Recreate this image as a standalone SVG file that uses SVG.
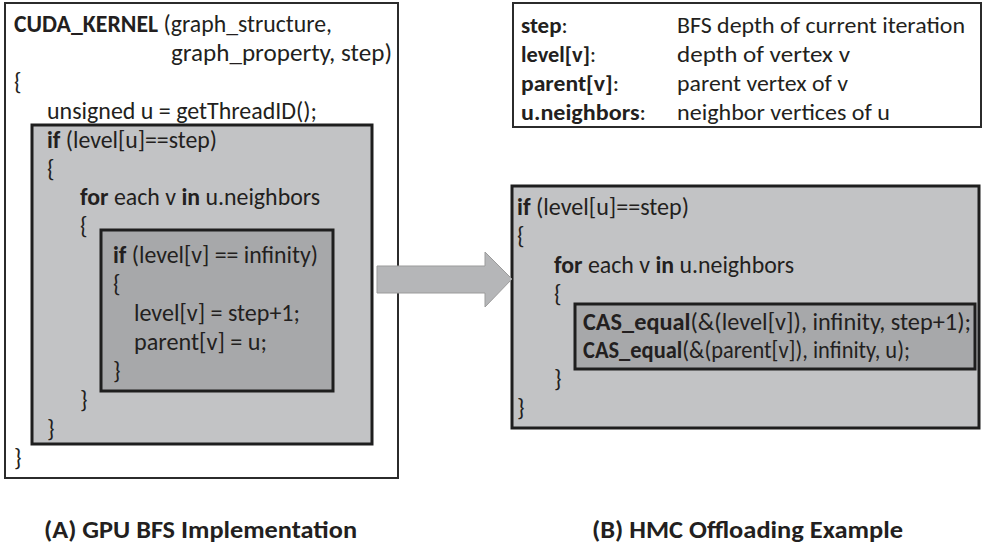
<svg xmlns="http://www.w3.org/2000/svg" width="983" height="546" viewBox="0 0 983 546">
<style>
text{font-family:Carlito,Lato,"Open Sans",sans-serif;font-size:24px;fill:#231f20}
.b{font-weight:bold}
.lg{font-size:23px}
.outer{fill:#ffffff;stroke:#2b2b2b;stroke-width:2}
.lvl1{fill:#c2c3c5;stroke:#1e1e1e;stroke-width:3}
.lvl2{fill:#a7a8aa;stroke:#1e1e1e;stroke-width:3}
.cap{font-weight:bold;font-size:24px}
</style>
<rect width="983" height="546" fill="#ffffff"/>
<g id="gpu-bfs">
<rect class="outer" x="5" y="3" width="393" height="475"/>
<rect class="lvl1" x="32" y="125" width="340" height="319"/>
<rect class="lvl2" x="101" y="230" width="232" height="161"/>
<text x="14" y="32" textLength="318" lengthAdjust="spacingAndGlyphs"><tspan class="b">CUDA_KERNEL</tspan> (graph_structure,</text>
<text x="171" y="61" textLength="221" lengthAdjust="spacingAndGlyphs">graph_property, step)</text>
<text x="14" y="90">{</text>
<text x="47" y="119" textLength="270" lengthAdjust="spacingAndGlyphs">unsigned u = getThreadID();</text>
<text x="47" y="148" textLength="170" lengthAdjust="spacingAndGlyphs"><tspan class="b">if</tspan> (level[u]==step)</text>
<text x="47" y="177">{</text>
<text x="80" y="205" textLength="240" lengthAdjust="spacingAndGlyphs"><tspan class="b">for</tspan> each v <tspan class="b">in</tspan> u.neighbors</text>
<text x="80" y="234">{</text>
<text x="113" y="263" textLength="205" lengthAdjust="spacingAndGlyphs"><tspan class="b">if</tspan> (level[v] == infinity)</text>
<text x="113" y="292">{</text>
<text x="134" y="321" textLength="166" lengthAdjust="spacingAndGlyphs">level[v] = step+1;</text>
<text x="134" y="350" textLength="133" lengthAdjust="spacingAndGlyphs">parent[v] = u;</text>
<text x="113" y="379">}</text>
<text x="80" y="408">}</text>
<text x="47" y="437">}</text>
<text x="14" y="466">}</text>
</g>
<g id="legend">
<rect class="outer" x="513" y="3" width="468" height="124"/>
<text class="lg" x="521" y="33"><tspan class="b">step</tspan>:</text>
<text class="lg" x="677" y="33" textLength="288" lengthAdjust="spacingAndGlyphs">BFS depth of current iteration</text>
<text class="lg" x="521" y="62" textLength="75" lengthAdjust="spacingAndGlyphs"><tspan class="b">level[v]</tspan>:</text>
<text class="lg" x="677" y="62" textLength="173" lengthAdjust="spacingAndGlyphs">depth of vertex v</text>
<text class="lg" x="521" y="91" textLength="98" lengthAdjust="spacingAndGlyphs"><tspan class="b">parent[v]</tspan>:</text>
<text class="lg" x="677" y="91" textLength="171" lengthAdjust="spacingAndGlyphs">parent vertex of v</text>
<text class="lg" x="521" y="120" textLength="125" lengthAdjust="spacingAndGlyphs"><tspan class="b">u.neighbors</tspan>:</text>
<text class="lg" x="677" y="120" textLength="213" lengthAdjust="spacingAndGlyphs">neighbor vertices of u</text>
</g>
<g id="hmc-offload">
<rect class="lvl1" x="512" y="186" width="467" height="242"/>
<rect class="lvl2" x="575" y="304" width="400" height="65"/>
<text x="517" y="215" textLength="172" lengthAdjust="spacingAndGlyphs"><tspan class="b">if</tspan> (level[u]==step)</text>
<text x="517" y="244">{</text>
<text x="554" y="273" textLength="240" lengthAdjust="spacingAndGlyphs"><tspan class="b">for</tspan> each v <tspan class="b">in</tspan> u.neighbors</text>
<text x="554" y="302">{</text>
<text x="583" y="330" textLength="388" lengthAdjust="spacingAndGlyphs"><tspan class="b">CAS_equal</tspan>(&amp;(level[v]), infinity, step+1);</text>
<text x="583" y="358" textLength="327" lengthAdjust="spacingAndGlyphs"><tspan class="b">CAS_equal</tspan>(&amp;(parent[v]), infinity, u);</text>
<text x="554" y="387">}</text>
<text x="517" y="416">}</text>
</g>
<g id="connectors">
<polygon points="377,266 485,266 485,252 512,279 485,307 485,293 377,293" fill="#b5b6b8" stroke="#9b9b9b" stroke-width="1"/>
</g>
<g id="captions">
<text class="cap" x="44" y="538" textLength="313" lengthAdjust="spacingAndGlyphs">(A) GPU BFS Implementation</text>
<text class="cap" x="592" y="538" textLength="311" lengthAdjust="spacingAndGlyphs">(B) HMC Offloading Example</text>
</g>
</svg>
